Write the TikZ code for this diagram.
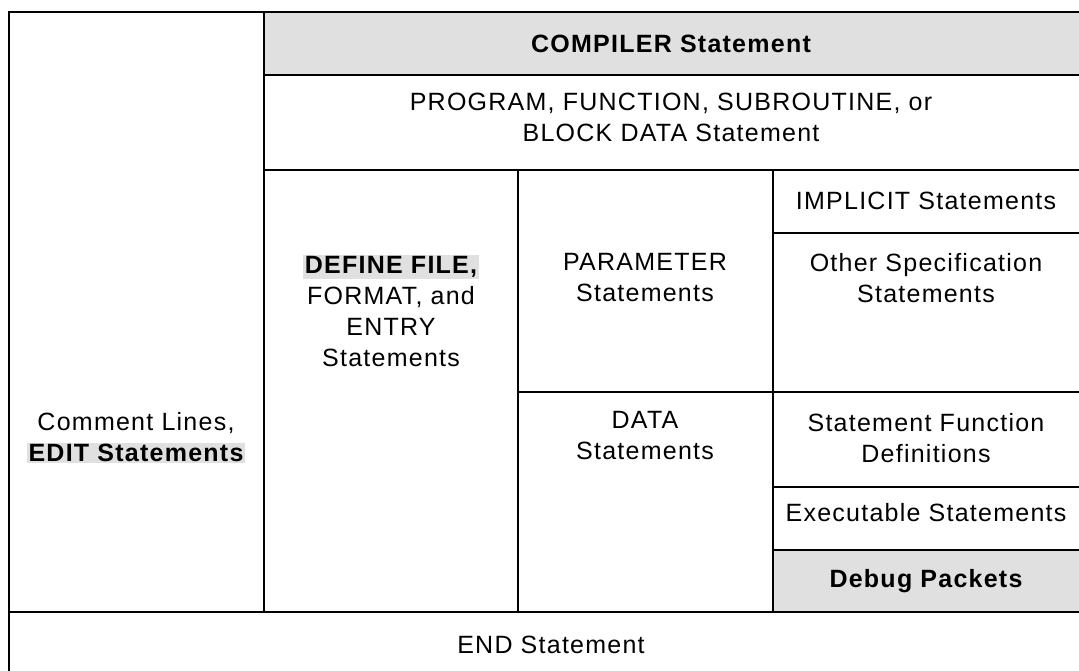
\documentclass[tikz,border=0pt]{standalone}
\usepackage{fontspec}
\setmainfont{Liberation Sans}[LetterSpace=5]
\definecolor{shade}{gray}{0.88}
\tikzset{
  grid/.style={line width=1.3pt, black},
  lbl/.style={align=center, inner sep=0pt, font=\fontsize{25}{31}\selectfont},
  hl/.style={fill=shade}
}
\newcommand{\hilite}[1]{{\setlength{\fboxsep}{1.5pt}\colorbox{shade}{\bfseries #1}}}
\begin{document}
\begin{tikzpicture}[x=1pt,y=-1pt]
\useasboundingbox (0,0) rectangle (1079,670);
\clip (0,0) rectangle (1079,670);
% shaded cells
\fill[hl] (264,12) rectangle (1090,75);
\fill[hl] (773,550) rectangle (1090,612);
% frame and grid
\draw[grid, line width=1.8pt] (1090,12) -- (9,12) -- (9,690);
\draw[grid] (264,12) -- (264,612);
\draw[grid] (264,75) -- (1090,75);
\draw[grid] (264,170) -- (1090,170);
\draw[grid] (518,170) -- (518,612);
\draw[grid] (773,170) -- (773,612);
\draw[grid] (773,233) -- (1090,233);
\draw[grid] (518,392) -- (1090,392);
\draw[grid] (773,487) -- (1090,487);
\draw[grid] (773,550) -- (1090,550);
\draw[grid] (9,612) -- (1090,612);
% labels
\node[lbl, font=\fontsize{25}{31}\selectfont\bfseries] (compiler) at (671,44) {COMPILER Statement};
\node[lbl] (program) at (671,117) {PROGRAM, FUNCTION, SUBROUTINE, or\\BLOCK DATA Statement};
\node[lbl] (define) at (391,311) {\hilite{DEFINE FILE,}\\FORMAT, and\\ENTRY\\Statements};
\node[lbl] (param) at (645,278) {PARAMETER\\Statements};
\node[lbl] (implicit) at (926,201) {IMPLICIT Statements};
\node[lbl] (other) at (926,278) {Other Specification\\Statements};
\node[lbl] (comment) at (136,438) {Comment Lines,\\\hilite{EDIT Statements}};
\node[lbl] (data) at (645,436) {DATA\\Statements};
\node[lbl] (sfd) at (926,438) {Statement Function\\Definitions};
\node[lbl] (exec) at (926,513) {Executable Statements};
\node[lbl, font=\fontsize{25}{31}\selectfont\bfseries] (debug) at (926,581) {Debug Packets};
\node[lbl] (endst) at (551,645) {END Statement};
\end{tikzpicture}
\end{document}
